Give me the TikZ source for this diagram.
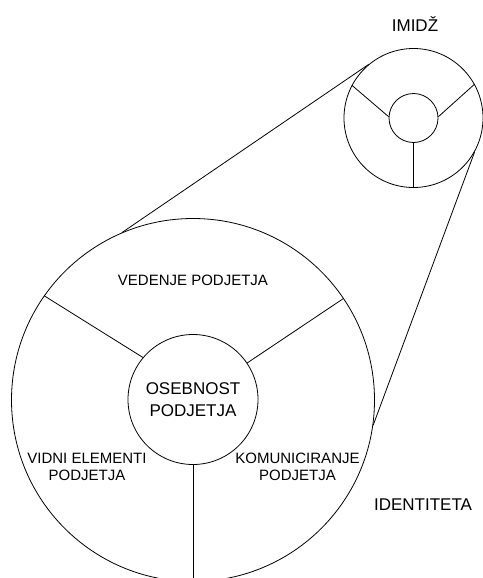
\documentclass[tikz,border=0pt]{standalone}
\usepackage{fontspec}
\setmainfont{Liberation Sans}
\begin{document}
\begin{tikzpicture}[x=1pt,y=-1pt, line width=0.8pt,
  ring/.style={circle,draw,inner sep=0pt},
  lbl/.style={font=\fontsize{15}{17}\selectfont, align=center, inner sep=0pt},
  biglbl/.style={font=\fontsize{17}{22}\selectfont, align=center, inner sep=0pt}]
\useasboundingbox (0,0) rectangle (482,578);
% identity circle
\node[ring, minimum size=363pt] (big) at (193,400) {};
\node[ring, minimum size=130pt, biglbl] (core) at (193,399.5) {OSEBNOST\\PODJETJA};
% image circle
\node[ring, minimum size=139pt] (small) at (413.5,118) {};
\node[ring, minimum size=49pt] (smallcore) at (413.5,118) {};
% spokes
\draw (core.140) -- (big.145.6);
\draw (core.34) -- (big.34.7);
\draw (core.south) -- (big.south);
\draw (smallcore.177) -- (small.152);
\draw (smallcore.3) -- (small.29);
\draw (smallcore.south) -- (small.south);
% connecting lines
\draw (big.113.6) -- (small.130);
\draw (big.-8.6) -- (small.-29);
% labels
\node[lbl, anchor=base] (ved) at (193,285) {VEDENJE PODJETJA};
\node[lbl] (vid) at (87,467) {VIDNI ELEMENTI\\PODJETJA};
\node[lbl] (kom) at (297.5,467) {KOMUNICIRANJE\\PODJETJA};
\node[biglbl, anchor=base] (ide) at (423,510) {IDENTITETA};
\node[biglbl, anchor=base] (imi) at (415,31.7) {IMIDŽ};
\end{tikzpicture}
\end{document}
